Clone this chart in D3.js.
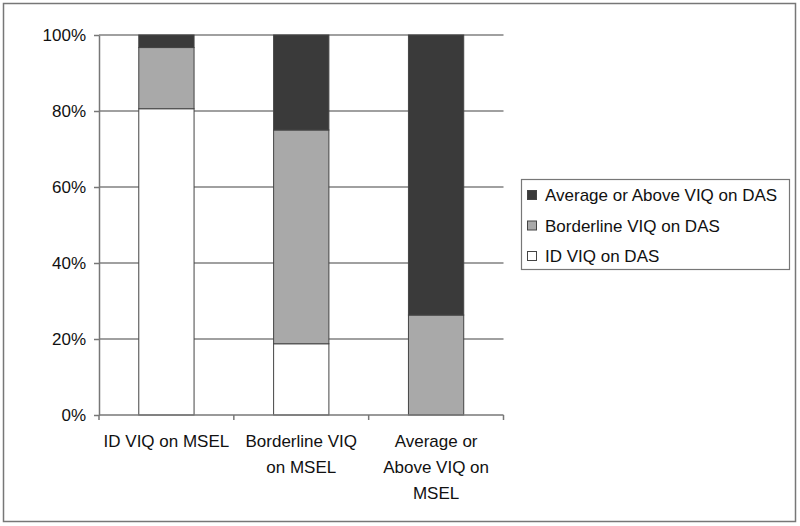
<!DOCTYPE html>
<html><head><meta charset="utf-8">
<script src="https://cdn.jsdelivr.net/npm/d3@7"></script>
<style>body{margin:0;background:#fff}svg{display:block}text{font-family:"Liberation Sans",Arial,sans-serif;fill:#111}</style>
</head><body><svg id="c" width="800" height="526"></svg>
<script>
const categories = [["ID VIQ on MSEL"], ["Borderline VIQ", "on MSEL"], ["Average or", "Above VIQ on", "MSEL"]];
const seriesNames = ["ID VIQ on DAS", "Borderline VIQ on DAS", "Average or Above VIQ on DAS"];
const idVals = [80.6, 18.75, 0];
const borderlineVals = [16.1, 56.25, 26.3];
const averageVals = [3.3, 25, 73.7];
const yTicks = [0, 20, 40, 60, 80, 100];
const colors = ["#ffffff", "#a9a9a9", "#3a3a3a"];

const svg = d3.select("#c");
svg.append("rect").attr("x",3.5).attr("y",3.5).attr("width",792).attr("height",518)
  .attr("fill","none").attr("stroke","#777").attr("stroke-width",1.5);

const L=99,R=503.5,T=35,B=415;
const x = d3.scaleBand().domain(d3.range(3)).range([L,R]).paddingInner(0.59).paddingOuter(0.295);
const band = d3.scaleBand().domain(d3.range(3)).range([L,R]);
const y = d3.scaleLinear().domain([0,100]).range([B,T]);

// gridlines
svg.append("g").selectAll("line").data(yTicks.filter(d=>d>0)).join("line")
  .attr("x1",L).attr("x2",R).attr("y1",d=>y(d)).attr("y2",d=>y(d))
  .attr("stroke","#808080").attr("stroke-width",1.6);

const data = d3.range(3).map(i=>({i, v:[idVals[i],borderlineVals[i],averageVals[i]]}));
const stack = d3.stack().keys([0,1,2]).value((d,k)=>d.v[k]);
const series = stack(data);
svg.append("g").selectAll("g").data(series).join("g")
  .attr("fill",(d,k)=>colors[k])
  .selectAll("rect").data(d=>d.filter(s=>s[1]-s[0]>0)).join("rect")
  .attr("x",d=>x(d.data.i)).attr("width",x.bandwidth())
  .attr("y",d=>y(d[1])).attr("height",d=>y(d[0])-y(d[1]))
  .attr("stroke","#444").attr("stroke-width",1);

// y axis
const ya = svg.append("g").attr("transform",`translate(${L},0)`)
  .call(d3.axisLeft(y).tickValues(yTicks).tickFormat(d=>d+"%").tickSize(5).tickSizeOuter(0));
ya.select(".domain").attr("stroke","#777").attr("stroke-width",1.5);
ya.selectAll(".tick line").attr("stroke","#777").attr("stroke-width",1.5);
ya.selectAll(".tick text").attr("font-size",17).attr("x",-13).attr("fill","#111");

// x axis
const xa = svg.append("g").attr("transform",`translate(0,${B})`);
xa.append("line").attr("x1",L).attr("x2",R).attr("stroke","#777").attr("stroke-width",1.5);
xa.selectAll("line.t").data([0,1,2,3]).join("line").attr("class","t")
  .attr("x1",d=>L+d*band.bandwidth()).attr("x2",d=>L+d*band.bandwidth())
  .attr("y1",0).attr("y2",5).attr("stroke","#777").attr("stroke-width",1.5);
categories.forEach((lines,i)=>{
  const t = xa.append("text").attr("text-anchor","middle").attr("font-size",17)
    .attr("x",band(i)+band.bandwidth()/2).attr("y",32);
  lines.forEach((s,j)=>t.append("tspan").attr("x",band(i)+band.bandwidth()/2).attr("dy",j?26:0).text(s));
});

// legend
const lg = svg.append("g");
lg.append("rect").attr("x",521.5).attr("y",179.5).attr("width",268).attr("height",90)
  .attr("fill","#fff").attr("stroke","#777").attr("stroke-width",1.2);
const order=[2,1,0];
order.forEach((k,r)=>{
  const cy = 195 + r*30.5;
  lg.append("rect").attr("x",527.5).attr("y",cy-4.5).attr("width",9).attr("height",9)
    .attr("fill",colors[k]).attr("stroke","#444").attr("stroke-width",1);
  lg.append("text").attr("x",545).attr("y",cy+6).attr("font-size",17).text(seriesNames[k]);
});
</script></body></html>
